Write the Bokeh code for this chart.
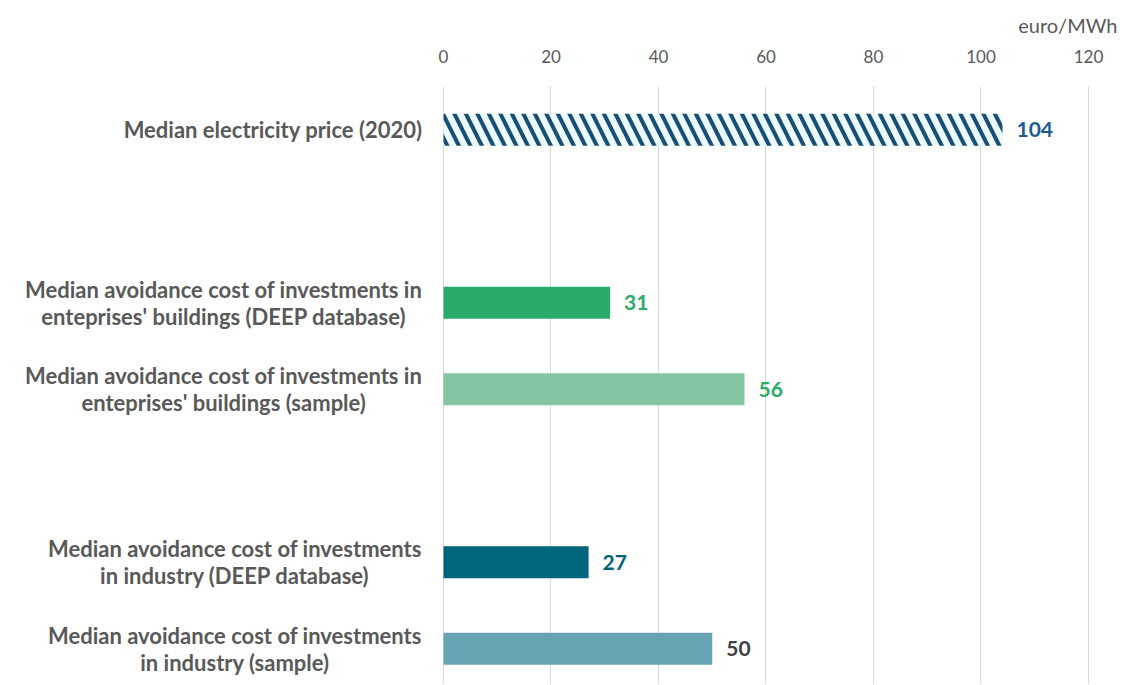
from bokeh.plotting import figure
from bokeh.models import ColumnDataSource, Range1d, FixedTicker
from bokeh.core.properties import value
from bokeh.embed import file_html
from bokeh.resources import INLINE

# ---- data ----
categories = [
    "Median electricity price (2020)",
    "Median avoidance cost of investments in\nenteprises' buildings (DEEP database)",
    "Median avoidance cost of investments in\nenteprises' buildings (sample)",
    "Median avoidance cost of investments\nin industry (DEEP database)",
    "Median avoidance cost of investments\nin industry (sample)",
]
values = [104, 31, 56, 27, 50]
slots = [0, 2, 3, 5, 6]
bar_colors = ["#eafcff", "#2bab69", "#85c6a2", "#00667c", "#67a3b2"]
label_colors = ["#1d5a93", "#2bab69", "#2bab69", "#006479", "#404040"]
x_ticks = [0, 20, 40, 60, 80, 100, 120]
unit_label = "euro/MWh"

# ---- styling / layout ----
FONT = "Lato"
GRAY = "#595959"
label_centers = [-31.7, -40.9, -40.9, -38.8, -38.8]
line_gap = 0.156

p = figure(width=1122, height=684, output_backend="svg", toolbar_location=None,
           x_range=Range1d(-82.42, 125.4), y_range=Range1d(6.414, -0.5),
           x_axis_location="above", y_axis_location=None,
           min_border_left=0, min_border_right=5, min_border_bottom=0, min_border_top=86,
           title=unit_label)
p.outline_line_color = None
p.background_fill_color = "white"
p.border_fill_color = "white"

p.title.align = "right"
p.title.text_font = FONT
p.title.text_font_style = "normal"
p.title.text_font_size = "20px"
p.title.text_color = GRAY
p.title.standoff = 20

ax = p.xaxis[0]
ax.ticker = FixedTicker(ticks=x_ticks)
ax.axis_line_color = None
ax.major_tick_line_color = None
ax.minor_tick_line_color = None
ax.major_label_standoff = 18
ax.major_label_text_font = FONT
ax.major_label_text_font_size = "17px"
ax.major_label_text_color = GRAY

p.xgrid.ticker = FixedTicker(ticks=x_ticks)
p.xgrid.grid_line_color = "#d9d9d9"
p.ygrid.grid_line_color = None

# bars
src = ColumnDataSource(dict(y=slots[1:], v=values[1:], c=bar_colors[1:]))
p.hbar(y="y", right="v", left=0, height=0.37, fill_color="c", line_color=None, source=src)
hsrc = ColumnDataSource(dict(y=slots[:1], v=values[:1]))
p.hbar(y="y", right="v", left=0, height=0.37, fill_color=bar_colors[0], line_color=None,
       hatch_pattern="left_diagonal_line", hatch_color="#1b4e74", hatch_weight=4,
       hatch_scale=23, source=hsrc)

# value labels
vsrc = ColumnDataSource(dict(x=values, y=slots, t=[str(v) for v in values], c=label_colors))
p.text(x="x", y="y", text="t", text_color="c", x_offset=14, text_align="left",
       text_baseline="middle", text_font=value(FONT), text_font_style="bold",
       text_font_size="21px", source=vsrc)

# category labels (centered lines)
lx, ly, lt = [], [], []
for cat, s, cx in zip(categories, slots, label_centers):
    lines = cat.split("\n")
    n = len(lines)
    for i, ln in enumerate(lines):
        lx.append(cx)
        ly.append(s + (i - (n - 1) / 2) * 2 * line_gap)
        lt.append(ln)
csrc = ColumnDataSource(dict(x=lx, y=ly, t=lt))
p.text(x="x", y="y", text="t", text_color=GRAY, text_align="center",
       text_baseline="middle", text_font=value(FONT), text_font_style="bold",
       text_font_size="22px", source=csrc)

open("out.html", "w").write(file_html(p, INLINE))
